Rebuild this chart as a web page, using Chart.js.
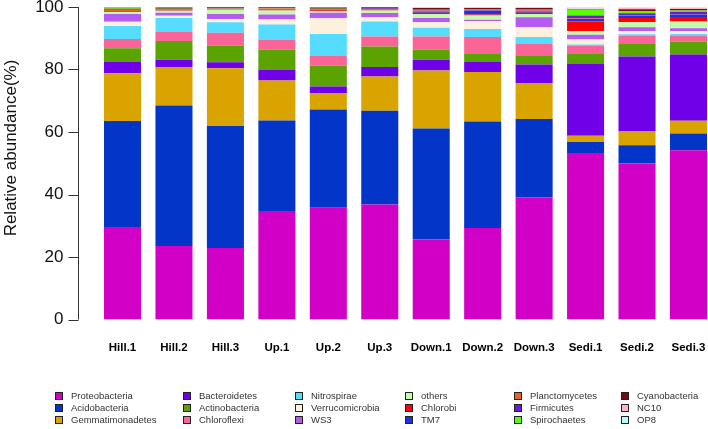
<!DOCTYPE html>
<html>
<head>
<meta charset="utf-8">
<script src="https://cdn.jsdelivr.net/npm/chart.js@4/dist/chart.umd.min.js"></script>
<style>
html,body{margin:0;padding:0;background:#fff;overflow:hidden;width:708px;height:429px;}
#wrap{position:absolute;left:0;top:0;width:716px;height:429px;}
#c{position:absolute;left:0;top:0;}
#legend{position:absolute;left:0;top:0;width:708px;height:429px;font-family:"Liberation Sans",Arial,sans-serif;font-size:9.5px;color:#333;pointer-events:none;}
.item{position:absolute;white-space:nowrap;height:12px;line-height:12px;}
.box{position:absolute;left:0;top:2px;width:6px;height:6px;border:1px solid #222;}
.lbl{position:absolute;left:16px;top:0;}
</style>
</head>
<body>
<div id="wrap">
<canvas id="c" width="716" height="429" style="width:716px;height:429px"></canvas>
<div id="legend"></div>
</div>
<script>
// ---- data ----
const categories = ["Hill.1","Hill.2","Hill.3","Up.1","Up.2","Up.3","Down.1","Down.2","Down.3","Sedi.1","Sedi.2","Sedi.3"];
const yTicks = [0,20,40,60,80,100];

const proteobacteria   = [29.6,23.5,22.9,34.7,35.8,36.8,25.6,29.3,39.1,53.3,49.9,54.2];
const acidobacteria    = [33.9,45.0,39.0,29.0,31.4,30.0,35.5,34.1,25.1,3.5,5.9,5.3];
const gemmatimonadetes = [15.3,12.3,18.5,12.8,5.1,11.0,18.6,15.8,11.5,2.0,4.4,4.1];
const bacteroidetes    = [3.6,2.3,1.9,3.5,2.3,3.0,3.4,3.2,5.9,23.0,24.0,21.2];
const actinobacteria   = [4.4,6.0,5.4,6.3,6.6,6.6,3.2,2.6,2.7,3.2,4.0,4.1];
const chloroflexi      = [3.0,3.1,4.1,3.3,3.3,3.2,4.3,5.4,3.9,2.7,2.5,2.0];
const nitrospirae      = [4.1,4.3,3.3,4.8,6.9,4.8,2.8,2.6,2.2,0.3,0.6,0.5];
const verrucomicrobia  = [1.4,0.7,1.1,1.6,5.0,1.3,1.7,2.5,3.1,1.6,1.0,0.9];
const ws3              = [2.5,1.0,1.6,1.6,1.8,1.4,1.4,0.4,3.2,1.5,1.2,0.9];
const others           = [0.6,0.6,1.3,1.3,0.5,0.8,1.3,1.4,1.1,1.2,1.6,2.2];
const chlorobi         = [0.2,0.2,0.1,0.3,0.3,0.2,0.4,0.3,0.4,3.1,1.4,1.4];
const tm7              = [0.1,0.1,0.05,0.1,0.1,0.1,0.2,1.3,0.4,0.8,0.7,0.8];
const planctomycetes   = [0.4,0.2,0.2,0.2,0.2,0.2,0.4,0.2,0.3,0.1,0.1,0.1];
const firmicutes       = [0.3,0.1,0.1,0.1,0.1,0.1,0.2,0.2,0.3,1.0,0.7,0.8];
const spirochaetes     = [0.1,0.05,0.05,0.05,0.05,0.05,0.1,0.1,0.1,1.8,0.7,0.4];
const cyanobacteria    = [0.3,0.4,0.3,0.25,0.4,0.35,0.6,0.3,0.4,0.2,0.6,0.5];
const nc10             = [0.1,0.1,0.05,0.05,0.1,0.05,0.2,0.2,0.2,0.2,0.4,0.3];
const op8              = [0.1,0.05,0.05,0.05,0.05,0.05,0.1,0.1,0.1,0.5,0.3,0.3];

const seriesNames = ["Proteobacteria","Acidobacteria","Gemmatimonadetes","Bacteroidetes","Actinobacteria","Chloroflexi","Nitrospirae","Verrucomicrobia","WS3","others","Chlorobi","TM7","Planctomycetes","Firmicutes","Spirochaetes","Cyanobacteria","NC10","OP8"];
const seriesValues = [proteobacteria,acidobacteria,gemmatimonadetes,bacteroidetes,actinobacteria,chloroflexi,nitrospirae,verrucomicrobia,ws3,others,chlorobi,tm7,planctomycetes,firmicutes,spirochaetes,cyanobacteria,nc10,op8];
const seriesColors = ["#d200c6","#0336c8","#d9a300","#6f00e8","#5aa300","#fb6496","#55dcff","#fdf0dc","#b45cf2","#c4fcae","#ff0000","#2032e0","#e8641e","#6a1ad6","#55ff00","#7a0a14","#ffb3d0","#b0fff8"];

// ---- styling ----
const FONT = '"Liberation Sans", Arial, sans-serif';

const rAxisPlugin = {
  id: 'rAxis',
  afterDraw(chart) {
    const ctx = chart.ctx, y = chart.scales.y;
    const ax = Math.round(chart.chartArea.left - 19) + 0.5;
    ctx.save();
    ctx.strokeStyle = '#333';
    ctx.lineWidth = 1;
    ctx.beginPath();
    ctx.moveTo(ax, y.getPixelForValue(yTicks[0]));
    ctx.lineTo(ax, y.getPixelForValue(yTicks[yTicks.length-1]));
    yTicks.forEach(v => {
      const p = Math.round(y.getPixelForValue(v)) + 0.5;
      ctx.moveTo(ax - 10, p);
      ctx.lineTo(ax, p);
    });
    ctx.stroke();
    ctx.translate(11, 148);
    ctx.rotate(-Math.PI/2);
    ctx.font = '17px ' + FONT;
    ctx.fillStyle = '#111';
    ctx.textAlign = 'center';
    ctx.textBaseline = 'middle';
    ctx.fillText('Relative abundance(%)', 0, 0);
    ctx.restore();
  }
};

const chart = new Chart(document.getElementById('c'), {
  type: 'bar',
  data: {
    labels: categories,
    datasets: seriesNames.map((n,i) => ({
      label: n,
      data: seriesValues[i],
      backgroundColor: seriesColors[i],
      borderWidth: 0,
      barPercentage: 0.72,
      categoryPercentage: 1.0
    }))
  },
  options: {
    responsive: false,
    animation: false,
    layout: { padding: { top: 7, right: 1.8, left: 0, bottom: 0 } },
    plugins: { legend: { display: false }, tooltip: { enabled: false } },
    scales: {
      x: {
        stacked: true,
        grid: { display: false, drawTicks: false },
        border: { display: false },
        ticks: { color: '#000', font: { family: FONT, size: 11.5, weight: 'bold' }, padding: 21, maxRotation: 0, autoSkip: false },
        afterFit(s) { s.height = 109.5; s.paddingLeft = 0; s.paddingRight = 0; }
      },
      y: {
        stacked: true,
        min: 0, max: 100,
        afterBuildTicks(s) { s.ticks = yTicks.map(v => ({ value: v })); },
        grid: { display: false, drawTicks: false },
        border: { display: false },
        ticks: { color: '#111', font: { family: FONT, size: 17 }, padding: 33.3 },
        afterFit(s) { s.width = 96.8; s.paddingTop = 0; s.paddingBottom = 0; }
      }
    }
  },
  plugins: [rAxisPlugin]
});

// ---- legend (column-major, 3 rows) ----
const colX = [55, 183, 295, 405, 514, 621];
const rowY = [390, 402, 414];
const legend = document.getElementById('legend');
chart.data.datasets.forEach((ds, i) => {
  const col = Math.floor(i / 3), row = i % 3;
  const it = document.createElement('div');
  it.className = 'item';
  it.style.left = colX[col] + 'px';
  it.style.top = rowY[row] + 'px';
  const b = document.createElement('span');
  b.className = 'box';
  b.style.background = ds.backgroundColor;
  const t = document.createElement('span');
  t.className = 'lbl';
  t.textContent = ds.label;
  it.appendChild(b); it.appendChild(t);
  legend.appendChild(it);
});
</script>
</body>
</html>
